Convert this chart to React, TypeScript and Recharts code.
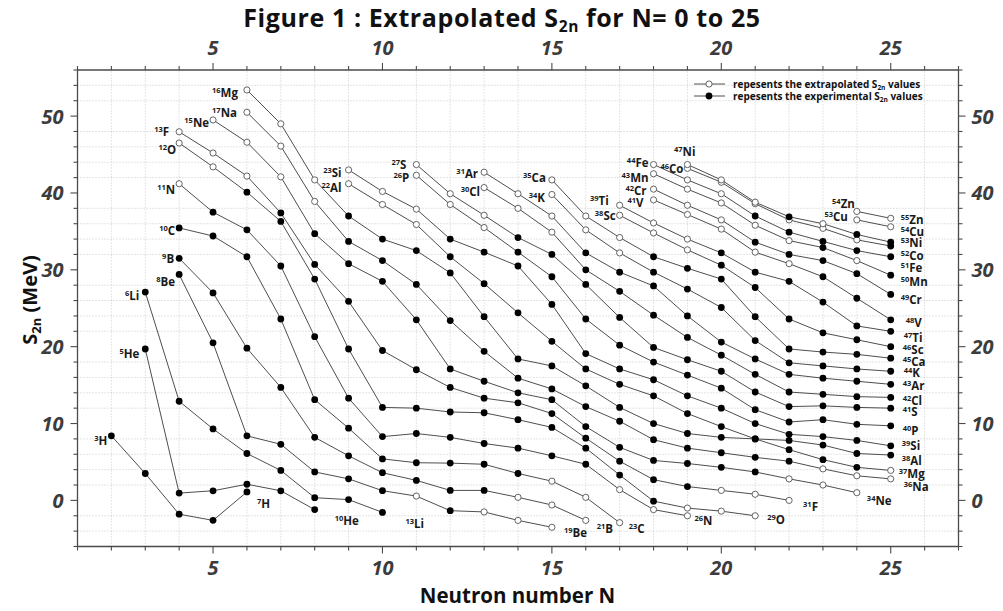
import React from 'react';
import { LineChart, Line, XAxis, YAxis, ReferenceLine } from 'recharts';

const W = 1003;
const H = 611;

// ---------- data ----------
const SYMBOLS = ['H', 'He', 'Li', 'Be', 'B', 'C', 'N', 'O', 'F', 'Ne', 'Na', 'Mg', 'Al', 'Si', 'P', 'S', 'Cl', 'Ar', 'K', 'Ca', 'Sc', 'Ti', 'V', 'Cr', 'Mn', 'Fe', 'Co', 'Ni', 'Cu', 'Zn'];
const FIRST_N = [2, 3, 3, 4, 4, 4, 4, 4, 4, 5, 6, 6, 9, 9, 11, 11, 13, 13, 15, 15, 17, 17, 18, 18, 18, 18, 19, 19, 24, 24];
const START_A = [3, 5, 6, 8, 9, 10, 11, 12, 13, 15, 17, 16, 22, 23, 26, 27, 30, 31, 34, 35, 38, 39, 41, 42, 43, 44, 46, 47, 53, 54];
const END_A = [7, 10, 13, 19, 21, 23, 26, 29, 31, 34, 36, 37, 38, 39, 40, 41, 42, 43, 44, 45, 46, 47, 48, 49, 50, 51, 52, 53, 54, 55];

const S2N_H = [8.4, 3.5, -1.8, -2.6, 1.1];
const S2N_He = [19.7, 0.95, 1.25, 2.1, 1.25, -1.2];
const S2N_Li = [27.1, 12.9, 9.3, 6.1, 3.9, 0.35, 0.1, -1.56];
const S2N_Be = [29.4, 20.5, 8.4, 7.3, 3.7, 2.8, 1.26, 0.56, -1.34, -1.5, -2.6, -3.5];
const S2N_B = [31.5, 27.0, 19.8, 14.7, 8.2, 5.8, 3.6, 2.6, 1.3, 1.3, 0.4, -0.6, -2.6];
const S2N_C = [35.45, 34.4, 31.7, 23.6, 13.1, 9.4, 5.4, 4.9, 4.85, 4.7, 3.5, 2.5, 0.4, -2.9];
const S2N_N = [41.2, 37.5, 35.2, 30.5, 21.3, 13.3, 8.3, 8.7, 8.2, 7.4, 6.8, 5.8, 4.7, 1.4, -1.2, -2.0];
const S2N_O = [46.5, 43.4, 40.1, 36.3, 28.8, 19.7, 12.1, 12.0, 11.5, 11.4, 10.5, 9.5, 6.8, 3.3, -0.1, -1.0, -1.4, -2.0];
const S2N_F = [47.96, 45.2, 42.2, 37.4, 30.7, 25.9, 19.5, 17.0, 14.7, 13.3, 12.7, 11.3, 8.1, 5.1, 2.7, 1.8, 1.3, 0.8, 0.0];
const S2N_Ne = [49.5, 46.6, 42.1, 34.7, 30.8, 28.5, 23.5, 17.1, 15.5, 14.0, 13.1, 9.6, 6.9, 5.2, 4.8, 4.3, 3.7, 2.8, 2.0, 1.0];
const S2N_Na = [50.5, 46.1, 38.9, 33.7, 31.2, 28.1, 23.4, 19.4, 15.9, 14.5, 12.2, 10.3, 7.9, 6.8, 6.2, 5.6, 5.1, 4.1, 3.2, 2.8];
const S2N_Mg = [53.4, 49.0, 41.7, 37.0, 34.0, 32.5, 29.6, 23.9, 18.4, 17.5, 14.9, 12.1, 10.0, 8.7, 8.2, 8.0, 6.6, 5.3, 4.3, 3.9];
const S2N_Al = [41.2, 38.5, 35.9, 31.7, 28.2, 24.4, 20.7, 17.1, 15.1, 13.6, 11.3, 9.6, 8.0, 7.8, 7.2, 6.1, 5.9];
const S2N_Si = [43.0, 40.2, 37.9, 34.0, 32.3, 30.5, 25.5, 19.1, 17.1, 15.7, 13.6, 12.0, 10.0, 8.6, 8.3, 7.8, 7.1];
const S2N_P = [42.3, 38.5, 35.5, 32.3, 29.1, 23.6, 20.2, 18.0, 16.3, 14.6, 11.8, 10.2, 10.5, 9.9, 9.7];
const S2N_S = [43.7, 39.9, 37.1, 34.2, 32.0, 28.1, 23.8, 19.9, 18.3, 16.8, 14.1, 12.2, 12.3, 12.1, 12.0];
const S2N_Cl = [40.7, 38.0, 34.9, 30.0, 27.2, 24.1, 21.2, 18.9, 16.4, 14.1, 13.8, 13.5, 13.4];
const S2N_Ar = [42.7, 39.9, 37.0, 32.2, 29.7, 27.9, 24.0, 20.6, 18.4, 16.4, 15.9, 15.5, 15.1];
const S2N_K = [39.8, 35.2, 32.2, 29.7, 27.5, 25.1, 20.8, 17.9, 17.5, 17.1, 16.8];
const S2N_Ca = [41.7, 37.0, 34.2, 31.7, 30.2, 28.8, 23.9, 19.7, 19.3, 19.0, 18.5];
const S2N_Sc = [37.1, 34.8, 32.6, 30.6, 27.7, 23.6, 21.8, 20.9, 20.0];
const S2N_Ti = [38.4, 36.1, 34.0, 32.2, 29.7, 28.5, 25.8, 22.7, 22.0];
const S2N_V = [39.1, 37.2, 35.3, 32.3, 30.8, 29.1, 26.3, 23.5];
const S2N_Cr = [40.5, 38.4, 36.5, 33.6, 32.0, 31.2, 29.5, 26.8];
const S2N_Mn = [42.5, 40.5, 38.7, 35.8, 33.8, 32.9, 31.2, 29.3];
const S2N_Fe = [43.7, 41.7, 39.9, 37.0, 34.9, 33.7, 32.5, 31.7];
const S2N_Co = [43.2, 41.4, 38.6, 36.5, 35.4, 33.9, 33.1];
const S2N_Ni = [43.7, 41.7, 38.8, 36.9, 36.0, 34.6, 33.6];
const S2N_Cu = [36.5, 35.6];
const S2N_Zn = [37.6, 36.7];

// neutron numbers whose S2n is extrapolated (open markers)
const EXT_H: number[] = [];
const EXT_He: number[] = [];
const EXT_Li: number[] = [];
const EXT_Be = [11, 13, 14, 15];
const EXT_B = [14, 15, 16];
const EXT_C = [15, 16, 17];
const EXT_N = [4, 17, 18, 19];
const EXT_O = [4, 5, 19, 20, 21];
const EXT_F = [4, 5, 6, 20, 21, 22];
const EXT_Ne = [5, 6, 7, 22, 23, 24];
const EXT_Na = [6, 7, 8, 23, 24, 25];
const EXT_Mg = [6, 7, 8, 25];
const EXT_Al = [9, 10, 11];
const EXT_Si = [9, 10, 11];
const EXT_P = [11, 12, 13];
const EXT_S = [11, 12, 13];
const EXT_Cl = [13, 14, 15];
const EXT_Ar = [13, 14, 15];
const EXT_K = [15, 16, 17];
const EXT_Ca = [15, 16, 17];
const EXT_Sc = [17, 18, 19];
const EXT_Ti = [17, 18, 19];
const EXT_V = [18, 19, 20, 21, 22];
const EXT_Cr = [18, 19, 20];
const EXT_Mn = [18, 19, 20, 21, 22, 24];
const EXT_Fe = [18, 19, 20];
const EXT_Co = [19, 20, 21, 22, 23, 24];
const EXT_Ni = [19, 20, 21, 23];
const EXT_Cu = [24, 25];
const EXT_Zn = [24, 25];

const N_TICKS = [1, 2, 3, 4, 5, 6, 7, 8, 9, 10, 11, 12, 13, 14, 15, 16, 17, 18, 19, 20, 21, 22, 23, 24, 25, 26, 27];
const S_TICKS = [-6, -4, -2, 0, 2, 4, 6, 8, 10, 12, 14, 16, 18, 20, 22, 24, 26, 28, 30, 32, 34, 36, 38, 40, 42, 44, 46, 48, 50, 52, 54, 56];
const N_GRID = [2, 3, 4, 6, 7, 8, 9, 11, 12, 13, 14, 16, 17, 18, 19, 21, 22, 23, 24, 26];
const S_GRID = [-4, -2, 2, 4, 6, 8, 12, 14, 16, 18, 22, 24, 26, 28, 32, 34, 36, 38, 42, 44, 46, 48, 52, 54];
const N_LABELS = [5, 10, 15, 20, 25];
const S_LABELS = [0, 10, 20, 30, 40, 50];

// ---------- style: label offsets (px) relative to the first / last point ----------
const START_OFFSET = [
  [-4, 5], [-6, 5], [-6, 4], [-4, 7], [-5, 1], [-4, 3], [-4, 6], [-3, 7], [-10, 0], [-4, 3],
  [-10, 1], [-9, 3], [-7, 4], [-7, 3], [-7, 3], [-10, 0], [-4, 4], [-6, 2], [-7, 3], [-6, -2],
  [-4, 1], [-11, -4], [-10, 3], [-7, 2], [-5, 4], [-5, -2], [-4, 0], [8, -13], [-9, -3], [-2, -8],
];
const END_OFFSET = [
  [10, 12], [20, 11], [23, 11], [12, 6], [11, 8], [9, 6], [7, 5], [12, 4], [14, 6], [10, 8],
  [13, 8], [8, 3], [11, 6], [11, 0], [12, 5], [12, 4], [12, 3], [12, 1], [13, 2], [12, 4],
  [12, 3], [13, 6], [15, 3], [10, 5], [10, 7], [10, 11], [10, 10], [10, 1], [10, 5], [10, 1],
];

const S2N_TABLE = [S2N_H, S2N_He, S2N_Li, S2N_Be, S2N_B, S2N_C, S2N_N, S2N_O, S2N_F, S2N_Ne, S2N_Na, S2N_Mg, S2N_Al, S2N_Si, S2N_P, S2N_S, S2N_Cl, S2N_Ar, S2N_K, S2N_Ca, S2N_Sc, S2N_Ti, S2N_V, S2N_Cr, S2N_Mn, S2N_Fe, S2N_Co, S2N_Ni, S2N_Cu, S2N_Zn];
const EXT_TABLE = [EXT_H, EXT_He, EXT_Li, EXT_Be, EXT_B, EXT_C, EXT_N, EXT_O, EXT_F, EXT_Ne, EXT_Na, EXT_Mg, EXT_Al, EXT_Si, EXT_P, EXT_S, EXT_Cl, EXT_Ar, EXT_K, EXT_Ca, EXT_Sc, EXT_Ti, EXT_V, EXT_Cr, EXT_Mn, EXT_Fe, EXT_Co, EXT_Ni, EXT_Cu, EXT_Zn];

const CHAINS = SYMBOLS.map((sym, i) => ({
  sym,
  data: S2N_TABLE[i].map((s, k) => ({ n: FIRST_N[i] + k, s, ext: EXT_TABLE[i].includes(FIRST_N[i] + k) })),
}));

const FONT = "'Open Sans', 'Noto Sans', sans-serif";
const TICK_COLOR = '#3c3c3c';
const AXIS_COLOR = '#4a4a4a';

function NuclideLabel({ x, y, mass, sym, anchor }: any) {
  return (
    <text x={x} y={y} textAnchor={anchor} fontFamily={FONT} fontWeight={700} fill="#1a1a1a">
      <tspan fontSize={7.5} dy={-4}>{mass}</tspan>
      <tspan fontSize={11.5} dy={4}>{sym}</tspan>
    </text>
  );
}

const makeDot = (ci: number) => (props: any) => {
  const { cx, cy, index, payload } = props;
  const last = S2N_TABLE[ci].length - 1;
  const so = START_OFFSET[ci];
  const eo = END_OFFSET[ci];
  return (
    <g key={`dot-${ci}-${index}`}>
      {payload.ext ? (
        <circle cx={cx} cy={cy} r={3.1} fill="#fff" stroke="#555" strokeWidth={0.9} />
      ) : (
        <circle cx={cx} cy={cy} r={3.4} fill="#000" />
      )}
      {index === 0 && (
        <NuclideLabel x={cx + so[0]} y={cy + so[1] + 4.2} mass={START_A[ci]} sym={CHAINS[ci].sym} anchor="end" />
      )}
      {index === last && (
        <NuclideLabel x={cx + eo[0]} y={cy + eo[1] + 4.2} mass={END_A[ci]} sym={CHAINS[ci].sym} anchor="start" />
      )}
    </g>
  );
};

const labelStyle = {
  fontFamily: FONT,
  fontWeight: 700,
  fontStyle: 'italic' as const,
  fontSize: 20,
  fill: TICK_COLOR,
};

function AxisTick(props: any) {
  const { x, y, payload, side } = props;
  const v = payload.value;
  if (side === 'b' || side === 't') {
    const major = v % 5 === 0;
    const len = major ? 7 : 4;
    const dir = side === 'b' ? 1 : -1;
    return (
      <g>
        <line x1={x} x2={x} y1={y} y2={y + dir * len} stroke={AXIS_COLOR} strokeWidth={1.1} />
        {N_LABELS.includes(v) && (
          <text x={x} y={side === 'b' ? y + 28 : y - 15} textAnchor="middle" {...labelStyle}>
            {v}
          </text>
        )}
      </g>
    );
  }
  const major = v % 10 === 0;
  const len = major ? 7 : 4;
  const dir = side === 'l' ? -1 : 1;
  return (
    <g>
      <line x1={x} x2={x + dir * len} y1={y} y2={y} stroke={AXIS_COLOR} strokeWidth={1.1} />
      {S_LABELS.includes(v) && (
        <text x={side === 'l' ? x - 14 : x + 13} y={y + 7.5} textAnchor={side === 'l' ? 'end' : 'start'} {...labelStyle}>
          {v}
        </text>
      )}
    </g>
  );
}

export default function App() {
  const axisLine = { stroke: AXIS_COLOR, strokeWidth: 1.3 };
  return (
    <div style={{ position: 'absolute', left: 0, top: 0, width: W, height: H, background: '#fff' }}>
      <LineChart width={W} height={H} margin={{ top: 40, right: 4.5, bottom: 34.5, left: 37.5 }}>
        <XAxis xAxisId="b" type="number" dataKey="n" domain={[1, 27]} ticks={N_TICKS} interval={0} orientation="bottom" height={30}
          tickLine={false} tickSize={0} tickMargin={0} axisLine={axisLine} allowDataOverflow
          tick={(p: any) => <AxisTick {...p} side="b" />} />
        <XAxis xAxisId="t" type="number" dataKey="n" domain={[1, 27]} ticks={N_TICKS} interval={0} orientation="top" height={30}
          tickLine={false} tickSize={0} tickMargin={0} axisLine={axisLine} allowDataOverflow
          tick={(p: any) => <AxisTick {...p} side="t" />} />
        <YAxis yAxisId="l" type="number" domain={[-6, 56]} ticks={S_TICKS} interval={0} orientation="left" width={40}
          tickLine={false} tickSize={0} tickMargin={0} axisLine={axisLine} allowDataOverflow
          tick={(p: any) => <AxisTick {...p} side="l" />} />
        <YAxis yAxisId="r" type="number" domain={[-6, 56]} ticks={S_TICKS} interval={0} orientation="right" width={40}
          tickLine={false} tickSize={0} tickMargin={0} axisLine={axisLine} allowDataOverflow
          tick={(p: any) => <AxisTick {...p} side="r" />} />
        {N_GRID.map((v) => (
          <ReferenceLine key={`gx${v}`} x={v} xAxisId="b" yAxisId="l" stroke="#bdbdbd" strokeWidth={0.8} strokeDasharray="1 2" />
        ))}
        {S_GRID.map((v) => (
          <ReferenceLine key={`gy${v}`} y={v} xAxisId="b" yAxisId="l" stroke="#bdbdbd" strokeWidth={0.8} strokeDasharray="1 2" />
        ))}
        {CHAINS.map((c, ci) => (
          <Line key={c.sym} data={c.data} dataKey="s" xAxisId="b" yAxisId="l" type="linear" stroke="#3a3a3a" strokeWidth={0.9}
            dot={makeDot(ci)} activeDot={false} isAnimationActive={false} legendType="none" />
        ))}
      </LineChart>
      <svg width={W} height={H} style={{ position: 'absolute', left: 0, top: 0, pointerEvents: 'none' }}>
        <text x={502} y={27} textAnchor="middle" fontFamily={FONT} fontWeight={700} fontSize={25} letterSpacing={0.6} fill="#111">
          Figure 1 : Extrapolated S<tspan fontSize={15.5} dy={5}>2n</tspan><tspan dy={-5}> for N= 0 to 25</tspan>
        </text>
        <text x={517.5} y={603} textAnchor="middle" fontFamily={FONT} fontWeight={700} fontSize={20.5} fill="#111">
          Neutron number N
        </text>
        <text transform="translate(37,300) rotate(-90)" textAnchor="middle" fontFamily={FONT} fontWeight={700} fontSize={20} fill="#111">
          S<tspan fontSize={13} dy={4}>2n</tspan><tspan dy={-4}> (MeV)</tspan>
        </text>
        <g fontFamily={FONT} fontWeight={700} fontSize={10} fill="#111">
          <line x1={694} x2={725} y1={84} y2={84} stroke="#3a3a3a" strokeWidth={0.9} />
          <circle cx={709} cy={84} r={3.1} fill="#fff" stroke="#555" strokeWidth={0.9} />
          <text x={733} y={87.5}>repesents the extrapolated S<tspan fontSize={6.5} dy={2}>2n</tspan><tspan dy={-2}> values</tspan></text>
          <line x1={694} x2={725} y1={96} y2={96} stroke="#3a3a3a" strokeWidth={0.9} />
          <circle cx={709} cy={96} r={3.4} fill="#000" />
          <text x={733} y={99.5}>repesents the experimental S<tspan fontSize={6.5} dy={2}>2n</tspan><tspan dy={-2}> values</tspan></text>
        </g>
      </svg>
    </div>
  );
}
